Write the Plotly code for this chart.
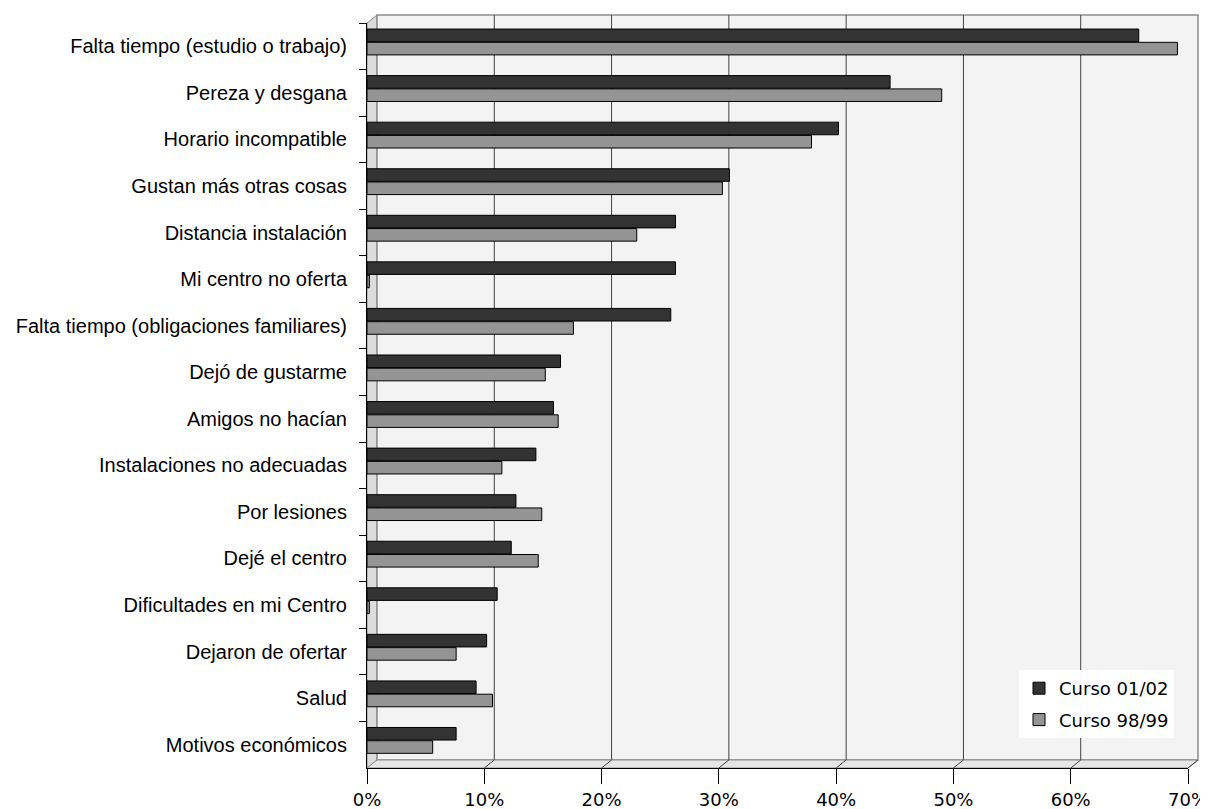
import plotly.graph_objects as go

categories = [
    "Falta tiempo (estudio o trabajo)",
    "Pereza y desgana",
    "Horario incompatible",
    "Gustan más otras cosas",
    "Distancia instalación",
    "Mi centro no oferta",
    "Falta tiempo (obligaciones familiares)",
    "Dejó de gustarme",
    "Amigos no hacían",
    "Instalaciones no adecuadas",
    "Por lesiones",
    "Dejé el centro",
    "Dificultades en mi Centro",
    "Dejaron de ofertar",
    "Salud",
    "Motivos económicos",
]
curso_01_02 = [65.8, 44.6, 40.2, 30.9, 26.3, 26.3, 25.9, 16.5, 15.9, 14.4, 12.7, 12.3, 11.1, 10.2, 9.3, 7.6]
curso_98_99 = [69.1, 49.0, 37.9, 30.3, 23.0, 0.2, 17.6, 15.2, 16.3, 11.5, 14.9, 14.6, 0.2, 7.6, 10.7, 5.6]
x_ticks = [0, 10, 20, 30, 40, 50, 60, 70]
x_tick_labels = ["0%", "10%", "20%", "30%", "40%", "50%", "60%", "70%"]

# page offset of the figure (browser body margin)
OFF = 8
W, H = 1208 - OFF, 809 - OFF
# plot frame in page pixels -> figure pixels
L, R, T, B = 367 - OFF, 1188 - OFF, 23 - OFF, 768 - OFF
DX, DY = 10, 8


def px(xpix):
    return (xpix - L) / (R - L)


def py(ypix):
    return (B - ypix) / (B - T)


fig = go.Figure()
fig.add_trace(go.Bar(
    y=categories, x=curso_01_02, orientation="h", name="Curso 01/02",
    marker=dict(color="#333333", line=dict(color="#000000", width=1)),
    offset=-0.37, width=0.27, legendgroup="a",
))
fig.add_trace(go.Bar(
    y=categories, x=curso_98_99, orientation="h", name="Curso 98/99",
    marker=dict(color="#949494", line=dict(color="#000000", width=1)),
    offset=-0.085, width=0.27, legendgroup="b",
))

shapes = []
# left side wall
shapes.append(dict(
    type="path", xref="paper", yref="paper", layer="below",
    path=f"M {px(L)},{py(T)} L {px(L+DX)},{py(T-DY)} L {px(L+DX)},{py(B-DY)} L {px(L)},{py(B)} Z",
    fillcolor="#dcdcdc", line=dict(color="#8c8c8c", width=1),
))
# back wall
shapes.append(dict(
    type="rect", xref="paper", yref="paper", layer="below",
    x0=px(L+DX), x1=px(R+DX), y0=py(B-DY), y1=py(T-DY),
    fillcolor="#f3f3f3", line=dict(color="#8c8c8c", width=1.5),
))
# floor
shapes.append(dict(
    type="path", xref="paper", yref="paper", layer="below",
    path=f"M {px(L)},{py(B)} L {px(L+DX)},{py(B-DY)} L {px(R+DX)},{py(B-DY)} L {px(R)},{py(B)} Z",
    fillcolor="#e6e6e6", line=dict(color="#8c8c8c", width=1),
))
# gridlines on back wall + floor connectors
for v in x_ticks[1:]:
    fx = L + (R - L) * v / x_ticks[-1]
    bx = fx + DX
    if v < x_ticks[-1]:
        shapes.append(dict(type="line", xref="paper", yref="paper", layer="below",
                           x0=px(bx), x1=px(bx), y0=py(B-DY), y1=py(T-DY),
                           line=dict(color="#404040", width=1)))
    shapes.append(dict(type="line", xref="paper", yref="paper", layer="below",
                       x0=px(fx), x1=px(bx), y0=py(B), y1=py(B-DY),
                       line=dict(color="#404040", width=1)))

fig.update_layout(
    width=W, height=H, autosize=False,
    margin=dict(l=L, r=W - R, t=T, b=H - B, pad=0),
    paper_bgcolor="white", plot_bgcolor="rgba(0,0,0,0)",
    barmode="overlay",
    shapes=shapes,
    showlegend=True,
    legend=dict(
        x=px(1019 - OFF), y=py(670 - OFF), xanchor="left", yanchor="top",
        bgcolor="white", borderwidth=0,
        font=dict(family="DejaVu Sans", size=18, color="black"),
        traceorder="grouped", tracegroupgap=5,
    ),
    xaxis=dict(
        range=[0, 70], tickvals=x_ticks, ticktext=x_tick_labels,
        showgrid=False, zeroline=False, showline=True, linecolor="black", linewidth=1,
        ticks="outside", ticklen=15, tickcolor="black",
        tickfont=dict(family="DejaVu Sans", size=18, color="black"),
        ticklabeloverflow="allow",
        automargin=False,
    ),
    yaxis=dict(
        type="category", categoryorder="array", categoryarray=categories,
        autorange="reversed", showgrid=False, zeroline=False,
        showline=True, linecolor="black", linewidth=1,
        ticks="outside", ticklen=7, tickcolor="black", tickson="boundaries",
        tickfont=dict(family="Liberation Sans, Arial", size=20, color="black"),
        ticklabelstandoff=15,
        automargin=False,
    ),
)

fig.write_html("out.html")
